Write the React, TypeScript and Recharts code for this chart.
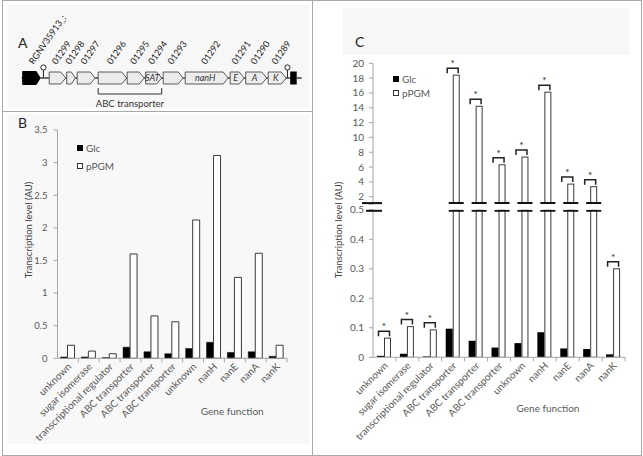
import React from 'react';
import { BarChart, Bar, XAxis, YAxis, Legend, LabelList } from 'recharts';

const FONT = 'Lato, "Liberation Sans", Arial, sans-serif';
const TXT = '#595959';
const AXIS = '#a6a6a6';
const DARK = '#222222';
const BAR_STROKE = '#3a3a3a';

// ---------------- Panel A: gene cluster (positions in relative units) ----------------
const locusKinds = ['end', 'term', 'gene', 'gene', 'gene', 'gene', 'gene', 'gene', 'gene', 'gene', 'gene', 'gene', 'gene', 'term', 'end'];
const locusStart = [1, 21, 27.5, 45, 55.5, 76.5, 105.5, 124, 141.5, 163.5, 208.5, 224, 246.5, 265, 268.5];
const locusEnd = [18.5, 22.5, 44, 53.5, 73.5, 105, 122.5, 140, 161.5, 206.5, 222.5, 245, 264.5, 266.5, 275];
const locusTags = ['RGNV35913_:', '', '01299', '01298', '01297', '01296', '01295', '01294', '01293', '01292', '01291', '01290', '01289', '', ''];
const locusNames = ['', '', '', '', '', '', '', 'SAT', '', 'nanH', 'E', 'A', 'K', '', ''];
const locusLength = 280;
const operonLabel = 'ABC transporter';
const operonFirst = 5;
const operonLast = 7;

// ---------------- Panels B and C ----------------
const geneFunctions = ['unknown', 'sugar isomerase', 'transcriptional regulator', 'ABC transporter', 'ABC transporter', 'ABC transporter', 'unknown', 'nanH', 'nanE', 'nanA', 'nanK'];
const seriesNames = ['Glc', 'pPGM'];

const glcB = [0.02, 0.02, 0.01, 0.17, 0.10, 0.07, 0.15, 0.245, 0.09, 0.10, 0.03];
const pgmB = [0.20, 0.11, 0.07, 1.60, 0.65, 0.56, 2.12, 3.11, 1.24, 1.61, 0.20];
const ticksB = [0, 0.5, 1, 1.5, 2, 2.5, 3, 3.5];

const glcC = [0.005, 0.012, 0.003, 0.097, 0.056, 0.033, 0.048, 0.085, 0.03, 0.028, 0.01];
const pgmC = [0.065, 0.104, 0.093, 18.4, 14.2, 6.3, 7.35, 16.1, 3.7, 3.35, 0.30];
const sigC = [true, true, true, true, true, true, true, true, true, true, true];
const ticksCUpper = [1, 2, 4, 6, 8, 10, 12, 14, 16, 18, 20];
const ticksCLower = [0, 0.1, 0.2, 0.3, 0.4, 0.5];
const breakUpper = 1;
const breakLower = 0.5;

const axisTitle = 'Transcription level (AU)';
const xTitle = 'Gene function';

// ---------------- data tables ----------------
const locusRow: Record<string, any> = { row: 'locus' };
{
  let prev = 0;
  locusKinds.forEach((_, i) => {
    locusRow[`gap${i}`] = locusStart[i] - prev;
    locusRow[`f${i}`] = locusEnd[i] - locusStart[i];
    prev = locusEnd[i];
  });
  locusRow.tail = locusLength - prev;
}
const dataB = geneFunctions.map((fn, i) => ({ fn, glc: glcB[i], pgm: pgmB[i] }));
const dataC = geneFunctions.map((fn, i) => ({ fn, glc: glcC[i], pgm: pgmC[i], sig: sigC[i] }));

// ---------------- Panel A shapes ----------------
const GapShape = (p: any) => {
  const cy = p.y + p.height / 2;
  if (!p.width) return <g />;
  return <line x1={p.x} x2={p.x + p.width} y1={cy} y2={cy} stroke={DARK} strokeWidth={1.3} />;
};

const makeFeatureShape = (i: number) => (p: any) => {
  const { x, y, width: w, height: h } = p;
  const cy = y + h / 2;
  const kind = locusKinds[i];
  if (kind === 'term') {
    const cx = x + w / 2;
    return (
      <g>
        <line x1={x} x2={x + w} y1={cy} y2={cy} stroke={DARK} strokeWidth={1.3} />
        <line x1={cx} x2={cx} y1={cy} y2={cy - 8} stroke={DARK} strokeWidth={1} />
        <circle cx={cx} cy={cy - 10.5} r={2.6} fill="#fff" stroke={DARK} strokeWidth={1} />
      </g>
    );
  }
  if (kind === 'end') {
    const y0 = cy - 6.5;
    const y1 = cy + 6.5;
    if (i === 0) {
      const tip = 4;
      return <polygon points={`${x},${y0} ${x + w - tip},${y0} ${x + w},${cy} ${x + w - tip},${y1} ${x},${y1}`} fill="#000" stroke="#000" />;
    }
    return <rect x={x} y={y0} width={w} height={13} fill="#000" />;
  }
  const tip = Math.min(5, w * 0.45);
  const name = locusNames[i];
  return (
    <g>
      <polygon
        points={`${x},${y} ${x + w - tip},${y} ${x + w},${cy} ${x + w - tip},${y + h} ${x},${y + h}`}
        fill="#ececec"
        stroke="#4a4a4a"
        strokeWidth={0.9}
      />
      {name ? (
        <text x={x + (w - tip) / 2 + 1} y={cy + 3.2} textAnchor="middle" fontSize={9} fontStyle="italic" fill="#333" fontFamily={FONT}>
          {name}
        </text>
      ) : null}
    </g>
  );
};

const makeTagLabel = (i: number) => (p: any) => {
  const vb = p.viewBox || p;
  const tag = locusTags[i];
  if (!tag) return null;
  const ax = vb.x + vb.width / 2 + (i === 0 ? 2 : -1);
  const ay = vb.y - 7;
  return (
    <text x={ax} y={ay} transform={`rotate(-55 ${ax} ${ay})`} fontSize={9} fill={DARK} fontFamily={FONT}>
      {tag}
    </text>
  );
};

const OperonBracket = (p: any) => {
  const vb = p.viewBox || p;
  const ppu = vb.width / (locusEnd[operonFirst] - locusStart[operonFirst]);
  const x1 = vb.x;
  const x2 = vb.x + (locusEnd[operonLast] - locusStart[operonFirst]) * ppu;
  const yb = vb.y + vb.height + 10;
  return (
    <g>
      <path d={`M${x1},${yb - 6}V${yb}H${x2}V${yb - 6}`} fill="none" stroke="#333" strokeWidth={1} />
      <text x={(x1 + x2) / 2} y={yb + 12.5} textAnchor="middle" fontSize={9.5} fill="#333" fontFamily={FONT}>
        {operonLabel}
      </text>
    </g>
  );
};

const PanelA = () => (
  <BarChart
    layout="vertical"
    width={312}
    height={112}
    data={[locusRow]}
    margin={{ top: 60, right: 10.3, bottom: 16, left: 21.7 }}
    barSize={12}
  >
    <XAxis type="number" domain={[0, locusLength]} hide />
    <YAxis type="category" dataKey="row" hide />
    {locusKinds.map((_, i) => [
      <Bar key={`g${i}`} dataKey={`gap${i}`} stackId="s" shape={GapShape} isAnimationActive={false} />,
      <Bar key={`f${i}`} dataKey={`f${i}`} stackId="s" shape={makeFeatureShape(i)} isAnimationActive={false}>
        <LabelList dataKey={`f${i}`} content={makeTagLabel(i)} />
        {i === operonFirst ? <LabelList dataKey={`f${i}`} content={OperonBracket} /> : null}
      </Bar>,
    ])}
    <Bar dataKey="tail" stackId="s" shape={GapShape} isAnimationActive={false} />
  </BarChart>
);

// ---------------- shared helpers ----------------
const makeXTick = (halfBand: number) => (p: any) => {
  const { x, y, payload } = p;
  const ax = x + 4;
  const ay = y + 9;
  return (
    <g>
      <line x1={x + halfBand} x2={x + halfBand} y1={y} y2={y + 4} stroke={AXIS} />
      <g transform={`translate(${ax}, ${ay}) rotate(-45)`}>
        <text x={0} y={0} textAnchor="end" fontSize={10} fill={TXT} fontFamily={FONT}>
          {payload.value}
        </text>
      </g>
    </g>
  );
};

const makeLegend = (rowH: number, fontSize: number) => (p: any) => (
  <div style={{ fontFamily: FONT, fontSize, color: TXT, lineHeight: 1 }}>
    {(p.payload || []).map((e: any, i: number) => (
      <div key={i} style={{ display: 'flex', alignItems: 'center', height: rowH, whiteSpace: 'nowrap' }}>
        <span
          style={{
            display: 'inline-block',
            width: 6,
            height: 6,
            boxSizing: 'border-box',
            background: e.color,
            border: `1px solid ${i === 0 ? '#000' : '#333'}`,
          }}
        />
        <span style={{ marginLeft: 3 }}>{e.value}</span>
      </div>
    ))}
  </div>
);

// ---------------- Panel B ----------------
const PLOT_W_B = 229.5;
const PanelB = () => (
  <BarChart
    width={312}
    height={335}
    data={dataB}
    margin={{ top: 18, right: 25, bottom: 18.7, left: 20 }}
    barSize={7}
    barGap={0}
  >
    <XAxis
      dataKey="fn"
      interval={0}
      height={70}
      tickLine={false}
      tickSize={0}
      tickMargin={0}
      axisLine={{ stroke: AXIS }}
      tick={makeXTick(PLOT_W_B / geneFunctions.length / 2)}
      label={{ value: xTitle, position: 'center', dx: 60, dy: 18, fontSize: 10, fill: TXT, fontFamily: FONT }}
    />
    <YAxis
      width={37.5}
      domain={[0, 3.5]}
      ticks={ticksB}
      interval={0}
      tickSize={4}
      tickMargin={6}
      axisLine={{ stroke: AXIS }}
      tickLine={{ stroke: AXIS }}
      tick={{ fontSize: 9.5, fill: TXT, fontFamily: FONT }}
    />
    <Legend
      layout="vertical"
      align="center"
      verticalAlign="middle"
      content={makeLegend(17.7, 10)}
      wrapperStyle={{ left: 77, top: 27, width: 'auto' }}
    />
    <Bar dataKey="glc" name={seriesNames[0]} fill="#000" stroke="#000" strokeWidth={0.5} isAnimationActive={false} />
    <Bar dataKey="pgm" name={seriesNames[1]} fill="#fff" stroke={BAR_STROKE} strokeWidth={1} isAnimationActive={false} />
  </BarChart>
);

// ---------------- Panel C ----------------
const PLOT_W_C = 252;
const LOWER_TOP = 59.8;
const UPPER_TOP = 23.3;

const NullShape = () => <g />;

const UpperPgmShape = (p: any) => {
  const { x, y, width, height, payload } = p;
  if (!payload || payload.pgm < breakUpper) return <g />;
  const bottom = y + height;
  return (
    <g>
      <rect x={x + 0.5} y={y} width={width - 1} height={Math.max(0, height - 1)} fill="#fff" stroke={BAR_STROKE} strokeWidth={1} />
      <line x1={x - 4} x2={x + width + 4} y1={bottom - 1} y2={bottom - 1} stroke="#111" strokeWidth={2} />
    </g>
  );
};

const LowerPgmShape = (p: any) => {
  const { x, y, width, height, background } = p;
  const top = background && typeof background.y === 'number' ? background.y : LOWER_TOP;
  const bottom = y + height;
  const yy = Math.max(y, top);
  const over = y < top - 0.5;
  return (
    <g>
      <rect x={x + 0.5} y={yy} width={width - 1} height={Math.max(0, bottom - yy)} fill="#fff" stroke={BAR_STROKE} strokeWidth={1} />
      {over ? <line x1={x - 4} x2={x + width + 4} y1={top + 1} y2={top + 1} stroke="#111" strokeWidth={2} /> : null}
    </g>
  );
};

const LowerGlcShape = (p: any) => {
  const { x, y, width, height } = p;
  return <rect x={x} y={y} width={width} height={Math.max(0, height)} fill="#000" />;
};

const makeBracket = (lo: number, hi: number) => (p: any) => {
  const vb = p.viewBox || p;
  const value = p.value;
  const idx = p.index;
  if (typeof value !== 'number' || !(value > lo && value <= hi)) return null;
  if (idx != null && !sigC[idx]) return null;
  const w = vb.width;
  const x1 = vb.x - w + 1.5;
  const x2 = vb.x + w - 1.5;
  const ly = vb.y - 7;
  return (
    <g>
      <path d={`M${x1},${ly + 5}V${ly}H${x2}V${ly + 5}`} fill="none" stroke="#222" strokeWidth={1.5} />
      <text x={(x1 + x2) / 2} y={ly - 1} textAnchor="middle" fontSize={10} fill="#222" fontFamily={FONT}>
        *
      </text>
    </g>
  );
};

const makeYTickC = (breakValue: number, showBreakLabel: boolean, breakLeft: number) => (p: any) => {
  const { x, y, payload } = p;
  const axisX = x + 9;
  const isBreak = payload.value === breakValue;
  return (
    <g>
      {(!isBreak || showBreakLabel) ? (
        <text x={x} y={y} dy="0.35em" textAnchor="end" fontSize={10} fill={TXT} fontFamily={FONT}>
          {payload.value}
        </text>
      ) : null}
      {isBreak ? (
        <line x1={axisX - breakLeft} x2={axisX + 9} y1={showBreakLabel ? y + 1 : y - 1} y2={showBreakLabel ? y + 1 : y - 1} stroke="#111" strokeWidth={2} />
      ) : null}
    </g>
  );
};

const PanelCUpper = () => (
  <BarChart
    width={331}
    height={175}
    data={dataC}
    margin={{ top: UPPER_TOP, right: 18, bottom: 10.9, left: 25 }}
    barSize={7}
    barGap={0}
  >
    <XAxis dataKey="fn" hide />
    <YAxis
      width={36}
      domain={[breakUpper, 20]}
      allowDataOverflow
      ticks={ticksCUpper}
      interval={0}
      tickSize={4}
      tickMargin={5}
      axisLine={{ stroke: AXIS }}
      tickLine={{ stroke: AXIS }}
      tick={makeYTickC(breakUpper, false, 11)}
    />
    <Legend
      layout="vertical"
      align="center"
      verticalAlign="middle"
      content={makeLegend(13.7, 10)}
      wrapperStyle={{ left: 81, top: 32, width: 'auto' }}
    />
    <Bar dataKey="glc" name={seriesNames[0]} fill="#000" shape={NullShape} isAnimationActive={false} />
    <Bar dataKey="pgm" name={seriesNames[1]} fill="#fff" shape={UpperPgmShape} isAnimationActive={false}>
      <LabelList dataKey="pgm" content={makeBracket(breakLower, Infinity)} />
    </Bar>
  </BarChart>
);

const PanelCLower = () => (
  <BarChart
    width={331}
    height={300}
    data={dataC}
    margin={{ top: LOWER_TOP, right: 18, bottom: 17.7, left: 25 }}
    barSize={7}
    barGap={0}
  >
    <XAxis
      dataKey="fn"
      interval={0}
      height={75}
      tickLine={false}
      tickSize={0}
      tickMargin={0}
      axisLine={{ stroke: AXIS }}
      tick={makeXTick(PLOT_W_C / geneFunctions.length / 2)}
      label={{ value: xTitle, position: 'center', dx: 49, dy: 14, fontSize: 10, fill: TXT, fontFamily: FONT }}
    />
    <YAxis
      width={36}
      domain={[0, breakLower]}
      allowDataOverflow
      ticks={ticksCLower}
      interval={0}
      tickSize={4}
      tickMargin={5}
      axisLine={{ stroke: AXIS }}
      tickLine={{ stroke: AXIS }}
      tick={makeYTickC(breakLower, true, 7)}
    />
    <Bar dataKey="glc" name={seriesNames[0]} fill="#000" shape={LowerGlcShape} isAnimationActive={false} />
    <Bar dataKey="pgm" name={seriesNames[1]} fill="#fff" shape={LowerPgmShape} isAnimationActive={false}>
      <LabelList dataKey="pgm" content={makeBracket(0, breakLower)} />
    </Bar>
  </BarChart>
);

const abs = (left: number, top: number, extra: React.CSSProperties = {}): React.CSSProperties => ({
  position: 'absolute',
  left,
  top,
  ...extra,
});

const panelLetter: React.CSSProperties = { fontFamily: FONT, fontSize: 14, color: '#222', lineHeight: 1 };

const yTitleStyle = (cx: number, cy: number): React.CSSProperties => ({
  position: 'absolute',
  left: cx - 70,
  top: cy - 7,
  width: 140,
  height: 14,
  lineHeight: '14px',
  textAlign: 'center',
  fontFamily: FONT,
  fontSize: 9.5,
  color: '#404040',
  whiteSpace: 'nowrap',
  transform: 'rotate(-90deg)',
  transformOrigin: '50% 50%',
});

export default function App() {
  return (
    <div style={{ position: 'absolute', left: 0, top: 0, width: 643, height: 456, background: '#fff', overflow: 'hidden' }}>
      {/* soft panel backgrounds */}
      <div style={abs(8, 5, { width: 302, height: 103, background: '#f7f7f7' })} />
      <div style={abs(8, 114, { width: 302, height: 330, background: '#f8f8f8' })} />
      <div style={abs(343, 8, { width: 287, height: 47, background: '#f7f7f7' })} />
      {/* frame */}
      <div style={abs(2, 0, { width: 640, height: 456, border: '1px solid #a9a9a9', boxSizing: 'border-box' })} />
      <div style={abs(312, 0, { width: 1, height: 456, background: '#a9a9a9' })} />
      <div style={abs(2, 111, { width: 310, height: 1, background: '#a9a9a9' })} />

      <div style={abs(0, 0)}>
        <PanelA />
      </div>
      <div style={abs(0, 112)}>
        <PanelB />
      </div>
      <div style={abs(312, 150)}>
        <PanelCLower />
      </div>
      <div style={abs(312, 40)}>
        <PanelCUpper />
      </div>

      <div style={yTitleStyle(29, 230)}>{axisTitle}</div>
      <div style={yTitleStyle(339, 230)}>{axisTitle}</div>

      <div style={abs(18, 36, panelLetter)}>A</div>
      <div style={abs(18, 116, panelLetter)}>B</div>
      <div style={abs(355, 35, panelLetter)}>C</div>
    </div>
  );
}
